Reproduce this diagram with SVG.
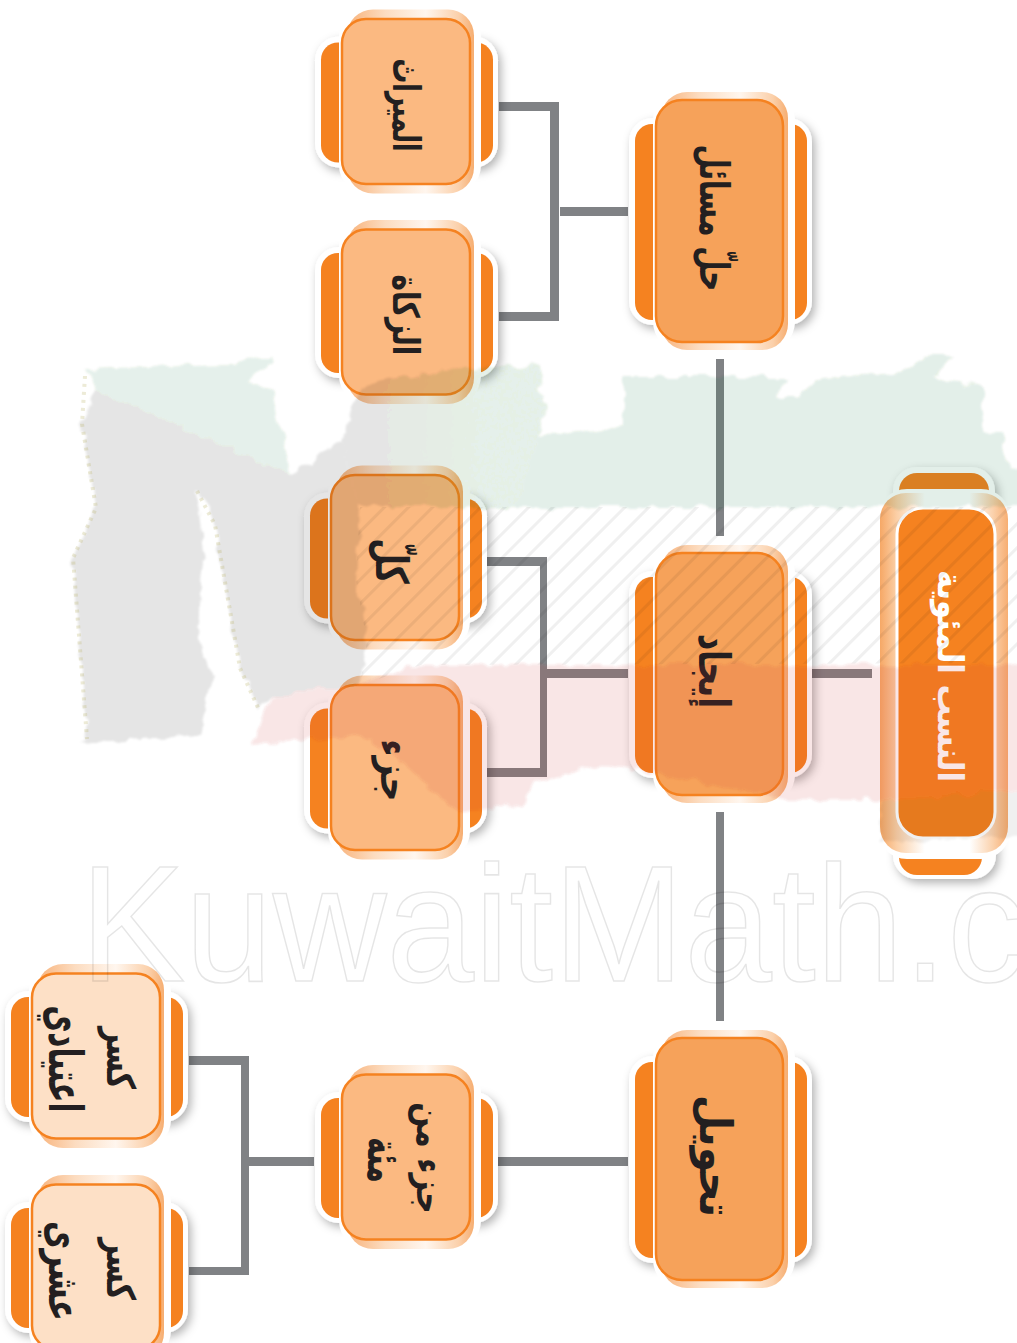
<svg xmlns="http://www.w3.org/2000/svg" width="1017" height="1343" viewBox="0 0 1017 1343">
<style>
.c{fill:#808285}
.m{stroke:#f58220;stroke-width:2.5}
.l1{fill:#f6a25a}.l2{fill:#fbb981}.l3{fill:#fde0c6}
.t{font-family:"DejaVu Sans",sans-serif;font-weight:bold;fill:#231f20;text-anchor:middle;direction:rtl}
</style>
<defs>
<filter id="sh" x="-20%" y="-20%" width="140%" height="140%"><feDropShadow dx="3" dy="4" stdDeviation="5" flood-color="#000" flood-opacity=".3"/></filter>
<filter id="rough" x="-5%" y="-5%" width="110%" height="110%"><feTurbulence type="fractalNoise" baseFrequency=".07" numOctaves="2" seed="4"/><feDisplacementMap in="SourceGraphic" scale="12" xChannelSelector="R" yChannelSelector="G"/><feGaussianBlur stdDeviation=".8"/></filter>
<linearGradient id="pl" x1="0" x2="1" y1="0" y2="0"><stop offset="0" stop-color="#f8b27a"/><stop offset=".3" stop-color="#fcdcc0"/><stop offset=".62" stop-color="#fff6ee"/><stop offset=".88" stop-color="#fbd0aa"/><stop offset="1" stop-color="#f6ad70"/></linearGradient>
<linearGradient id="pt" x1="0" x2="1" y1="0" y2="0"><stop offset="0" stop-color="#f6a866"/><stop offset=".13" stop-color="#fbcfa6"/><stop offset=".35" stop-color="#fff"/><stop offset=".7" stop-color="#fff"/><stop offset=".88" stop-color="#fbd2ad"/><stop offset="1" stop-color="#f7ae72"/></linearGradient>
<linearGradient id="gg" gradientUnits="userSpaceOnUse" x1="345" x2="480" y1="0" y2="0"><stop offset="0" stop-color="#000"/><stop offset="1" stop-color="#096d24"/></linearGradient>
<pattern id="hatch" patternUnits="userSpaceOnUse" width="17" height="17" patternTransform="rotate(45)"><rect width="3" height="17" fill="#000" opacity=".06"/></pattern>
<g id="small"><g filter="url(#sh)"><rect x="-91" y="-65" width="183" height="131" rx="24" fill="#fff"/></g><rect x="-85" y="-59" width="172" height="120" rx="17" fill="#f58220"/><rect x="-67" y="-92" width="142" height="184" rx="28" fill="#fff"/><rect x="-59" y="-92" width="127" height="184" rx="26" fill="url(#pl)"/></g>
<g id="large"><g filter="url(#sh)"><rect x="-91" y="-103" width="183" height="207" rx="24" fill="#fff"/></g><rect x="-85" y="-97" width="172" height="196" rx="17" fill="#f58220"/><rect x="-67" y="-129" width="142" height="258" rx="28" fill="#fff"/><rect x="-59" y="-129" width="127" height="258" rx="26" fill="url(#pl)"/></g>
</defs>
<rect width="1017" height="1343" fill="#fff"/>
<g id="connectors">
<path class="c" d="M499 102H559V321H499V312H550V111H499Z"/>
<rect class="c" x="560" y="207" width="68" height="9"/>
<rect class="c" x="716" y="359" width="8" height="177"/>
<path class="c" d="M487 557H547V777H487V768H540V566H487Z"/>
<rect class="c" x="540" y="669" width="88" height="9"/>
<rect class="c" x="811" y="669" width="61" height="9"/>
<rect class="c" x="716" y="812" width="8" height="209"/>
<path class="c" d="M189 1056H249V1275H189V1267H241V1065H189Z"/>
<rect class="c" x="249" y="1157" width="65" height="9"/>
<rect class="c" x="498" y="1157" width="130" height="9"/>
</g>
<g id="node-root">
<g filter="url(#sh)"><rect x="893" y="467" width="102" height="60" rx="24" fill="#fff"/><rect x="893" y="819" width="103" height="60" rx="24" fill="#fff"/></g>
<rect x="899" y="473" width="90" height="40" rx="18" fill="#f58220"/>
<rect x="899" y="835" width="83" height="40" rx="18" fill="#f58220"/>
<rect x="877" y="489" width="134" height="370" rx="30" fill="#fff"/>
<rect x="880" y="493" width="128" height="360" rx="26" fill="url(#pt)"/>
<rect x="897" y="508" width="98" height="330" rx="26" fill="#f58220" stroke="#fff" stroke-width="3"/>
<text class="t" style="fill:#fff" font-size="35" transform="translate(938,676) rotate(90) scale(.87,1)">النسب المئوية</text>
</g>
<g id="node-solve" transform="translate(720,221)"><use href="#large"/><rect class="m l1" x="-64" y="-121" width="127" height="242" rx="26"/><text class="t" font-size="33" transform="translate(-20,-3) rotate(90) scale(.85,1.25)">حلّ مسائل</text></g>
<g id="node-find" transform="translate(720,674)"><use href="#large"/><rect class="m l1" x="-64" y="-121" width="127" height="242" rx="26"/><text class="t" font-size="30" transform="translate(-21,-3) rotate(90) scale(1.07,1.45)">إيجاد</text></g>
<g id="node-convert" transform="translate(720,1159)"><use href="#large"/><rect class="m l1" x="-64" y="-121" width="127" height="242" rx="26"/><text class="t" font-size="33" transform="translate(-20,-3) rotate(90) scale(1.24,1.35)">تحويل</text></g>
<g id="node-inherit" transform="translate(406,101.5)"><use href="#small"/><rect class="m l2" x="-64" y="-82.5" width="128" height="165" rx="24"/><text class="t" font-size="28" transform="translate(-13,3.5) rotate(90) scale(.88,1.35)">الميراث</text></g>
<g id="node-zakat" transform="translate(406,312)"><use href="#small"/><rect class="m l2" x="-64" y="-82.5" width="128" height="165" rx="24"/><text class="t" font-size="28" transform="translate(-13,3) rotate(90) scale(1,1.3)">الزكاة</text></g>
<g id="node-whole" transform="translate(395,557.5)"><use href="#small"/><rect class="m l2" x="-64" y="-82.5" width="128" height="165" rx="24"/><text class="t" font-size="28" transform="translate(-19,3.5) rotate(90) scale(1.1,1.6)">كلّ</text></g>
<g id="node-part" transform="translate(395,767.5)"><use href="#small"/><rect class="m l2" x="-64" y="-82.5" width="128" height="165" rx="24"/><text class="t" font-size="28" transform="translate(-14,3) rotate(90) scale(1.2,1.4)">جزء</text></g>
<g id="node-percent" transform="translate(406,1157)"><use href="#small"/><rect class="m l2" x="-64" y="-82.5" width="128" height="165" rx="24"/><text class="t" font-size="28" transform="translate(11,1) rotate(90) scale(1.07,1.3)">جزء من</text><text class="t" font-size="28" transform="translate(-38,3) rotate(90) scale(1,1.6)">مئة</text></g>
<g id="node-fraction" transform="translate(96,1056)"><use href="#small"/><rect class="m l3" x="-64" y="-82.5" width="128" height="165" rx="24"/><text class="t" font-size="28" transform="translate(11,2) rotate(90) scale(1,1.4)">كسر</text><text class="t" font-size="28" transform="translate(-47,3) rotate(90) scale(1.05,1.7)">اعتيادي</text></g>
<g id="node-decimal" transform="translate(96,1267)"><use href="#small"/><rect class="m l3" x="-64" y="-82.5" width="128" height="165" rx="24"/><text class="t" font-size="28" transform="translate(11,2) rotate(90) scale(1,1.4)">كسر</text><text class="t" font-size="28" transform="translate(-47,4) rotate(90) scale(1.1,1.55)">عشري</text></g>
<g id="watermark" pointer-events="none">
<g filter="url(#rough)">
<polygon fill="#096d24" opacity=".1" points="85,369 147,367 233,365 262,357 273,357 248,382 273,388 291,474 96,392"/>
<polygon fill="#000" opacity=".1" points="96,392 291,474 342,441 360,507 356,580 367,642 360,685 273,697 259,710 240,668 215,525 197,491 204,563 197,634 212,676 201,735 82,743 87,739 73,558 96,508 82,424"/>
<polygon fill="url(#gg)" opacity=".1" points="342,441 360,386 445,370 540,365 544,416 538,437 528,473 514,507 360,507"/>
<polygon fill="#096d24" opacity=".11" points="623,377 787,377 777,397 797,397 821,377 900,373 930,355 954,355 934,377 982,387 982,433 1002,433 1008,467 1030,470 1030,507 514,507 528,473 538,437 623,427"/>
<polygon fill="#d03232" opacity=".12" points="273,697 360,685 421,665 1030,665 1030,790 880,800 787,800 640,770 600,767 535,780 522,806 457,812 400,760 360,735 250,745"/>
<polygon fill="#000" opacity=".06" points="880,800 1030,790 1030,835 900,842 880,840"/>
</g>
<polygon fill="url(#hatch)" points="360,507 1017,507 1017,663 421,665 360,685 367,642 356,580"/>
<polyline fill="none" stroke="#b8b060" stroke-width="4" stroke-dasharray="3 5" opacity=".25" points="197,491 215,525 240,668 259,710"/>
<polyline fill="none" stroke="#b8b060" stroke-width="4" stroke-dasharray="3 5" opacity=".25" points="85,376 82,424 96,508 73,558 87,739"/>
<text font-family="'Liberation Sans',sans-serif" font-size="160" fill="none" stroke="#000" stroke-opacity=".1" stroke-width="1.5" transform="translate(80,981) scale(.985,1.03)">KuwaitMath.c</text>
</g>
</svg>
